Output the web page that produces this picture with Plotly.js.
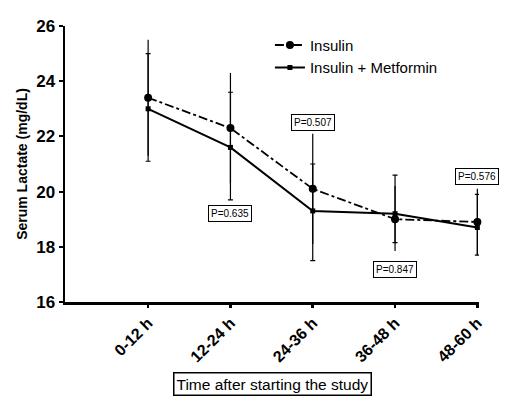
<!DOCTYPE html>
<html><head><meta charset="utf-8">
<script src="https://cdn.plot.ly/plotly-3.0.1.min.js"></script>
<style>html,body{margin:0;padding:0;background:#fff;}#chart{width:505px;height:411px;}</style>
</head><body><div id="chart"></div>
<script>
const categories = ["0-12 h", "12-24 h", "24-36 h", "36-48 h", "48-60 h"];
const insulin = [23.4, 22.3, 20.1, 19.0, 18.9];
const insulinErrPlus = [2.1, 2.0, 2.0, 1.2, 1.2];
const insulinErrMinus = [2.1, 2.0, 2.0, 1.15, 1.2];
const metformin = [23.0, 21.6, 19.3, 19.2, 18.7];
const metforminErrPlus = [2.0, 2.0, 1.7, 1.4, 1.2];
const metforminErrMinus = [1.9, 1.9, 1.8, 1.05, 1.0];
const pLabels = ["P=0.793", "P=0.635", "P=0.507", "P=0.847", "P=0.576"];
const pLabelY = [26.22, 19.19, 22.49, 17.16, 20.53];

const FONT = "Liberation Sans, Arial, sans-serif";

const traces = [
  {
    x: categories, y: insulin, name: "Insulin", type: "scatter", mode: "lines+markers",
    line: {color: "#000", width: 1.8, dash: "dashdot"},
    marker: {color: "#000", size: 8, symbol: "circle"},
    error_y: {type: "data", symmetric: false, array: insulinErrPlus, arrayminus: insulinErrMinus,
              visible: true, color: "#000", thickness: 1.2, width: 0},
    cliponaxis: false
  },
  {
    x: categories, y: metformin, name: "Insulin + Metformin", type: "scatter", mode: "lines+markers",
    line: {color: "#000", width: 2},
    marker: {color: "#000", size: 5, symbol: "square"},
    error_y: {type: "data", symmetric: false, array: metforminErrPlus, arrayminus: metforminErrMinus,
              visible: true, color: "#000", thickness: 1.2, width: 2.5},
    cliponaxis: false
  }
];

const annotations = pLabels.map((t, i) => ({
  x: categories[i], y: pLabelY[i], xref: "x", yref: "y", text: t, showarrow: false,
  font: {family: FONT, size: 10, color: "#000"},
  bordercolor: "#000", borderwidth: 1, borderpad: 2, bgcolor: "#fff"
}));
annotations.push({
  x: 0.5, y: -0.297, xref: "paper", yref: "paper", text: "Time after starting the study",
  showarrow: false, font: {family: FONT, size: 15.5, color: "#000"},
  bordercolor: "#000", borderwidth: 1.5, borderpad: 2, xanchor: "center", yanchor: "middle"
});

const layout = {
  width: 505, height: 411,
  margin: {l: 65, r: 26, t: 26, b: 109},
  paper_bgcolor: "#fff", plot_bgcolor: "#fff",
  showlegend: true,
  legend: {x: 0.495, y: 0.99, xanchor: "left", yanchor: "top", font: {family: FONT, size: 15, color: "#000"},
           bgcolor: "rgba(0,0,0,0)", tracegroupgap: 0, itemwidth: 30},
  xaxis: {
    type: "category", range: [-1.01, 4.02], showgrid: false, zeroline: false,
    showline: true, linecolor: "#000", linewidth: 2.5,
    ticks: "outside", ticklen: 3, tickwidth: 2.5, tickcolor: "#000",
    tickvals: categories, ticktext: categories.map(c => "<b>" + c + "</b>"),
    tickangle: -45, tickfont: {family: FONT, size: 16, color: "#000"}
  },
  yaxis: {
    range: [16, 26], dtick: 2, showgrid: false, zeroline: false,
    showline: true, linecolor: "#000", linewidth: 2.5,
    ticks: "outside", ticklen: 4, tickwidth: 2, tickcolor: "#000",
    tickprefix: "<b>", ticksuffix: "</b>",
    tickfont: {family: FONT, size: 17, color: "#000"},
    title: {text: "Serum Lactate (mg/dL)", font: {family: FONT, size: 14, color: "#000", weight: 700}, standoff: 6}
  },
  annotations: annotations
};

Plotly.newPlot("chart", traces, layout, {displayModeBar: false, staticPlot: true});
</script></body></html>
